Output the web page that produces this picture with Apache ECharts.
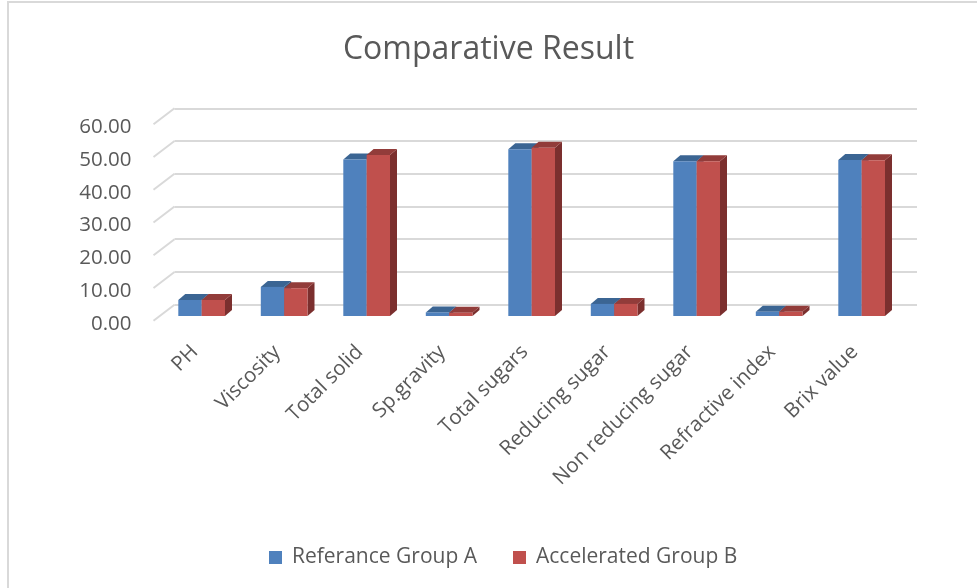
<!DOCTYPE html>
<html>
<head>
<meta charset="utf-8">
<script src="https://cdn.jsdelivr.net/npm/echarts@6/dist/echarts.min.js"></script>
<style>
html,body{margin:0;padding:0;background:#fff;}
#chart{width:977px;height:588px;}
</style>
</head>
<body>
<div id="chart"></div>
<script>
const categories = ['PH','Viscosity','Total solid','Sp.gravity','Total sugars','Reducing sugar','Non reducing sugar','Refractive index','Brix value'];
const groupA = [4.9, 8.9, 47.8, 1.1, 51.0, 3.7, 47.3, 1.3, 47.7];
const groupB = [4.9, 8.5, 49.2, 1.0, 51.4, 3.7, 47.3, 1.3, 47.6];
const seriesNames = ['Referance Group A', 'Accelerated Group B'];
const yTicks = [0, 10, 20, 30, 40, 50, 60];

const FONT = '"Open Sans"';
const TXT = '#595959';
const FRONT = ['#4f81bd', '#c0504d'];
const TOP = ['#3b6593', '#923c3a'];
const SIDE = ['#35587f', '#7b2f2e'];
const DX = 7, DY = -6;

function barRenderer(sIdx) {
  return function (params, api) {
    const i = api.value(0), v = api.value(1);
    const base = api.coord([i, 0]);
    const top = api.coord([i, v]);
    const bw = api.size([1, 0])[0] * 0.283;
    const x0 = sIdx === 0 ? base[0] - bw : base[0];
    const x1 = x0 + bw;
    const yb = base[1], yt = top[1];
    return {
      type: 'group',
      children: [
        { type: 'polygon', shape: { points: [[x1, yt], [x1 + DX, yt + DY], [x1 + DX, yb + DY], [x1, yb]] }, style: { fill: SIDE[sIdx] } },
        { type: 'polygon', shape: { points: [[x0, yt], [x0 + DX, yt + DY], [x1 + DX, yt + DY], [x1, yt]] }, style: { fill: TOP[sIdx] } },
        { type: 'rect', shape: { x: x0, y: yt, width: bw, height: yb - yt }, style: { fill: FRONT[sIdx] } }
      ]
    };
  };
}

const chart = echarts.init(document.getElementById('chart'), null, { renderer: 'canvas' });
chart.setOption({
  animation: false,
  backgroundColor: '#ffffff',
  graphic: [{ type: 'rect', shape: { x: 8, y: 2, width: 1200, height: 1200 }, style: { fill: 'none', stroke: '#d9d9d9', lineWidth: 2 }, silent: true }],
  title: {
    text: 'Comparative Result', left: 'center', top: 29,
    textStyle: { fontFamily: FONT, fontSize: 32, fontWeight: 'normal', color: TXT }
  },
  legend: {
    bottom: 15, left: 264, icon: 'rect', itemWidth: 13, itemHeight: 13, itemGap: 36,
    textStyle: { fontFamily: FONT, fontSize: 21, color: TXT, padding: [0, 0, 0, 5] },
    data: seriesNames
  },
  grid: [
    { left: 174.5, right: 60, top: 108.3, bottom: 283.5 },
    { left: 153.5, right: 81, top: 124.3, bottom: 267.2 },
    { left: 160.4, right: 74.1, top: 119.7, bottom: 272 }
  ],
  xAxis: [
    { gridIndex: 0, type: 'category', data: categories, show: false },
    { gridIndex: 1, type: 'category', data: categories,
      axisLine: { show: false }, axisTick: { show: false },
      axisLabel: { rotate: 45, margin: 28, interval: 0, fontFamily: FONT, fontSize: 20.5, color: TXT } },
    { gridIndex: 2, type: 'category', data: categories, show: false }
  ],
  yAxis: [
    { gridIndex: 0, type: 'value', min: 0, max: 60, interval: 10,
      axisLabel: { show: false }, axisLine: { show: false }, axisTick: { show: false },
      splitLine: { lineStyle: { color: '#d9d9d9', width: 2 } } },
    { gridIndex: 1, type: 'value', min: 0, max: 60, interval: 10,
      axisLine: { show: false }, axisTick: { show: false }, splitLine: { show: false },
      axisLabel: { margin: 22, fontFamily: FONT, fontSize: 20.5, color: TXT,
        formatter: v => '{v|' + v.toFixed(2) + '}',
        rich: { v: { fontFamily: FONT, fontSize: 20.5, color: TXT, padding: [6, 0, 0, 0] } } } },
    { gridIndex: 2, type: 'value', min: 0, max: 60, interval: 10, show: false, splitLine: { show: false } }
  ],
  series: [
    {
      type: 'custom', name: 'walls', xAxisIndex: 1, yAxisIndex: 1, silent: true, z: 1,
      data: yTicks.map(v => [0, v]),
      renderItem: function (params, api) {
        const p = api.coord([0, api.value(1)]);
        const x = params.coordSys.x;
        return { type: 'line', shape: { x1: x, y1: p[1], x2: x + 21, y2: p[1] - 16 }, style: { stroke: '#d9d9d9', lineWidth: 2 } };
      }
    },
    {
      type: 'custom', name: seriesNames[0], xAxisIndex: 2, yAxisIndex: 2, z: 3,
      itemStyle: { color: FRONT[0] },
      data: groupA.map((v, i) => [i, v]),
      encode: { x: 0, y: 1 },
      renderItem: barRenderer(0)
    },
    {
      type: 'custom', name: seriesNames[1], xAxisIndex: 2, yAxisIndex: 2, z: 4,
      itemStyle: { color: FRONT[1] },
      data: groupB.map((v, i) => [i, v]),
      encode: { x: 0, y: 1 },
      renderItem: barRenderer(1)
    }
  ]
});
</script>
</body>
</html>
